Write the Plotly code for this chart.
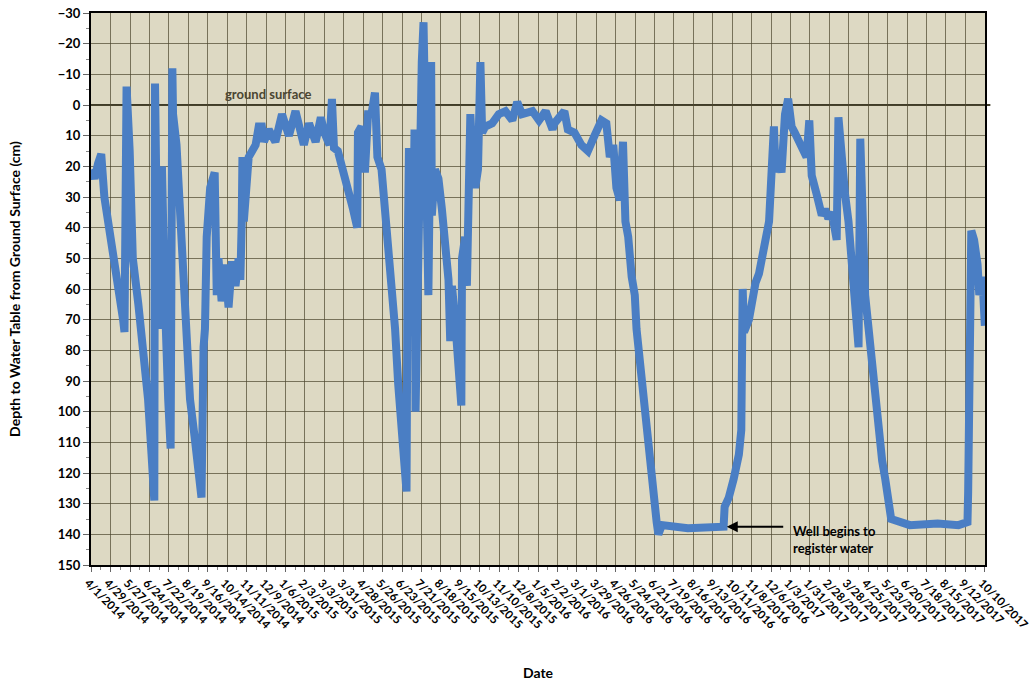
import pandas as pd
import plotly.graph_objects as go

START = pd.Timestamp("2014-04-01")
END = pd.Timestamp("2017-10-10")

# Days since 4/1/2014 and depth (cm below ground surface)
seg1_days = [0, 5, 10, 14.5, 19, 26.5, 34, 41, 46, 48, 50, 51, 55.5, 60, 68, 75, 82, 87, 91, 92,
             96.5, 99, 102, 106, 108.5, 111, 114.5, 117, 118, 123, 128, 133, 137.5, 142.5, 149,
             154.5, 159, 162, 164, 166.5, 171.5, 178, 180, 181, 183.5, 188, 193, 198, 203, 208,
             212.5, 215, 217, 218, 220, 223, 227, 232, 237, 241.5, 246, 249, 256, 265.5, 275,
             285, 294.5, 306.5, 314, 323.5, 331]
seg1_depth = [21, 24, 19, 16, 30, 41, 49, 62, 70, 74, 38, -6, 15, 50, 65, 79, 96, 114, 129, -7,
              73, 38, 20, 62, 87, 96, 112, -12, 3, 13, 34, 56, 79, 96, 108,
              120, 128, 79, 73, 43, 27, 22, 44, 62, 50, 64, 52, 66, 51, 59,
              50, 57, 38, 17, 38, 29, 17, 15, 13, 7, 7, 12, 8, 12, 3,
              10, 2, 13, 6, 12, 4]

seg2_days = [336, 343.5, 347, 350, 355.5, 363, 370, 377.5, 383.5, 384.5, 389.5, 394.5, 399, 404,
             409, 412.5, 418.5, 423.5, 428, 433, 438, 442.5, 447.5, 451.5, 454.5, 456, 458, 461,
             463.5, 466, 467.5, 471.5, 474, 476.5, 479, 481, 486, 490, 491, 495.5, 500.5, 505.5,
             510, 515, 517.5, 520, 524.5, 529.5, 533.5, 534.5, 539, 541.5, 544, 546.5, 549,
             553.5, 557.5, 561, 563.5, 568, 578, 587.5, 597, 607, 614, 621, 636, 645.5, 655, 665]
seg2_depth = [9, 13, -2, 14, 15, 21, 28, 34, 40, 9, 7, 22, 3, 3,
              -4, 17, 21, 34, 44, 62, 73, 91, 108, 120, 126, 53, 14, 50,
              62, 8, 100, 50, 3, -14, -27, -8, 62, -14, 36, 21, 24, 34,
              44, 57, 77, 59, 70, 85, 98, 50, 43, 59, 29, 3, 15,
              27, 21, -14, 9, 7, 6, 3, 2, 5, -1, 3, 2, 5, 2, 8]

seg3_days = [667.5, 682, 687, 696.5, 706.5, 716, 725.5, 735.5, 742.5, 747.5, 752.5, 757, 762,
             766.5, 770, 774, 779, 783.5, 786, 791, 795.5, 800.5, 805.5, 810, 815, 817.5, 822.5,
             860, 890, 911.5, 913, 919, 926, 933.5, 937, 938, 939, 941, 948, 952.5, 957.5, 962.5,
             967, 972, 977, 979.5, 981.5, 984, 986.5, 990, 995, 1000, 1004.5, 1009.5, 1014,
             1021.5, 1026, 1031, 1035, 1038.5, 1045.5, 1053, 1057.5, 1062.5, 1067.5, 1072,
             1074.5, 1077, 1082, 1086.5, 1091.5, 1096.5, 1101, 1106, 1108.5, 1111, 1115.5,
             1120.5, 1125.5, 1130, 1132.5, 1135, 1140, 1144.5, 1149.5, 1153, 1180, 1220, 1250,
             1263, 1264, 1265.5, 1267, 1268.5, 1272.5, 1277.5, 1280, 1284.5, 1288]
seg3_depth = [6, 2, 8, 9, 13, 15, 10, 5, 6, 17, 13, 27, 31,
              12, 38, 43, 56, 62, 73, 85, 94, 102, 114, 126, 136, 140, 137,
              138, 137.5, 137.5, 131, 128, 122, 114, 106, 85, 60, 74, 70, 62, 58, 55,
              49, 44, 38, 27, 15, 7, 22, 17, 22, 3, -2, 7, 9,
              12, 15, 17, 5, 23, 29, 36, 34, 37, 35, 41,
              44, 4, 21, 29, 38, 50, 64, 79, 11, 38, 62,
              73, 85, 91, 99, 108, 116, 122, 128, 135, 137, 136.5, 137,
              136, 126, 97, 62, 41, 44, 52, 62, 56, 72]

# Category-style date ticks every 28 days (as in the original Excel axis)
TICK_STEP_DAYS = 28
tick_dates = list(pd.date_range(START, END, freq=f"{TICK_STEP_DAYS}D"))
tick_labels = [f"{d.month}/{d.day}/{d.year}" for d in tick_dates]

days = seg1_days + seg2_days + seg3_days
depth = seg1_depth + seg2_depth + seg3_depth
n = min(len(days), len(depth))
dates = [START + pd.Timedelta(days=d) for d in days[:n]]

DAY_MS = 86400000
FONT = "Lato"

fig = go.Figure()
fig.add_trace(go.Scatter(
    x=dates, y=depth[:n], mode="lines",
    line=dict(color="#4A7EC4", width=8),
    name="Depth to water table",
))

grid = "rgba(75,70,45,0.7)"
fig.update_layout(
    width=1031, height=687,
    margin=dict(l=91, r=46, t=13, b=122, autoexpand=False),
    paper_bgcolor="white", plot_bgcolor="#DDD9C3",
    showlegend=False,
    xaxis=dict(
        type="date", automargin=False,
        range=[START - pd.Timedelta(hours=6), END + pd.Timedelta(hours=6)],
        tickmode="array", tickvals=tick_dates, ticktext=tick_labels, tickangle=45,
        ticklabeloverflow="allow", ticklabelshift=-3,
        tickfont=dict(family=FONT, size=11.5, color="black", weight="bold"),
        showgrid=True, gridcolor=grid, gridwidth=1,
        showline=True, linecolor="black", linewidth=2, mirror=True,
        ticks="outside", ticklen=5, tickcolor="#666",
        minor=dict(dtick=14 * DAY_MS, tick0="2014-04-01", ticks="outside", ticklen=3,
                   tickcolor="#888", showgrid=False),
        zeroline=False,
        title=dict(text="Date", font=dict(family=FONT, size=14, color="black", weight="bold"),
                   standoff=38),
    ),
    yaxis=dict(
        range=[150, -30], tick0=0, dtick=10, automargin=False,
        ticklabeloverflow="allow",
        tickfont=dict(family=FONT, size=13, color="black", weight="bold"),
        showgrid=True, gridcolor=grid, gridwidth=1,
        showline=True, linecolor="black", linewidth=2, mirror=True,
        ticks="outside", ticklen=6, tickcolor="#666",
        minor=dict(dtick=5, ticks="outside", ticklen=3, tickcolor="#888", showgrid=False),
        zeroline=False,
        title=dict(text="Depth to Water Table from Ground Surface (cm)",
                   font=dict(family=FONT, size=14, color="black", weight="bold"),
                   standoff=34),
    ),
)

fig.add_shape(type="line", xref="paper", yref="y", x0=0, x1=1.006, y0=0, y1=0,
              line=dict(color="#3F3C28", width=2), layer="below")

fig.add_annotation(x=START + pd.Timedelta(days=255), y=-3.6, text="ground surface",
                   showarrow=False, font=dict(family=FONT, size=13, color="#4A4632", weight="bold"))

fig.add_annotation(x=START + pd.Timedelta(days=916), y=137.5, text="",
                   showarrow=True, ax=58, ay=0, arrowhead=2, arrowsize=1.1,
                   arrowwidth=2, arrowcolor="black")

fig.add_annotation(x=START + pd.Timedelta(days=1009), y=141.8, xanchor="left", align="left",
                   text="Well begins to<br>register water", showarrow=False,
                   font=dict(family=FONT, size=13, color="black", weight="bold"))

fig.write_html("out.html", config={"displayModeBar": False},
               post_script="document.body.style.margin='0';")
